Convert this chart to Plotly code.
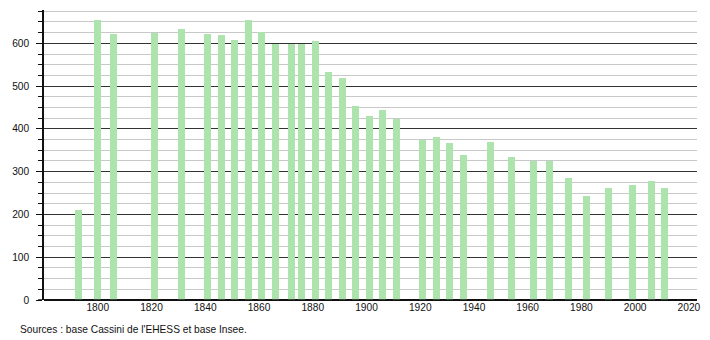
import plotly.graph_objects as go

years = [1793, 1800, 1806, 1821, 1831, 1841, 1846, 1851, 1856, 1861, 1866, 1872, 1876,
         1881, 1886, 1891, 1896, 1901, 1906, 1911, 1921, 1926, 1931, 1936, 1946, 1954,
         1962, 1968, 1975, 1982, 1990, 1999, 2006, 2011]
population = [210, 655, 621, 625, 633, 621, 619, 609, 654, 626, 599, 599, 599,
              605, 533, 518, 453, 430, 444, 424, 375, 381, 367, 338, 369, 334,
              324, 324, 285, 243, 262, 268, 278, 262]
x_ticks = [1800, 1820, 1840, 1860, 1880, 1900, 1920, 1940, 1960, 1980, 2000, 2020]
y_ticks = [0, 100, 200, 300, 400, 500, 600]
source = "Sources : base Cassini de l'EHESS et base Insee."

fig = go.Figure()
fig.add_trace(go.Bar(x=years, y=population, width=2.6,
                     marker=dict(color="#ade3ad", line=dict(width=0))))

font = dict(family="Liberation Sans, Arial, sans-serif", size=10.2, color="#111")
fig.update_layout(
    width=710, height=340,
    margin=dict(l=44, r=9, t=10, b=40),
    paper_bgcolor="white", plot_bgcolor="white",
    showlegend=False, font=font, bargap=0,
    xaxis=dict(range=[1780, 2023], tickvals=x_ticks, ticks="", showgrid=False,
               zeroline=False, showline=False, tickfont=font),
    yaxis=dict(range=[0, 678], tickvals=y_ticks, ticks="outside", ticklen=6,
               tickcolor="#111", tickwidth=1, showline=True, linecolor="#111",
               linewidth=1.5, showgrid=True, gridcolor="#333", gridwidth=1,
               zeroline=True, zerolinecolor="#111", zerolinewidth=1.5,
               tickfont=font, ticklabelstandoff=5,
               minor=dict(dtick=25, tick0=0, ticks="outside", ticklen=4,
                          tickcolor="#111", showgrid=True, gridcolor="#c8c8c8",
                          gridwidth=1)),
    annotations=[dict(text=source, x=(18 - 44) / 657, y=(340 - 40 - 329) / 290,
                      xref="paper", yref="paper", showarrow=False, font=font,
                      xanchor="left", yanchor="middle")],
)
fig.add_shape(type="line", xref="paper", yref="y", x0=(38 - 44) / 657, x1=1, y0=0, y1=0,
              line=dict(color="#111", width=1.5))
fig.write_html("out.html")
